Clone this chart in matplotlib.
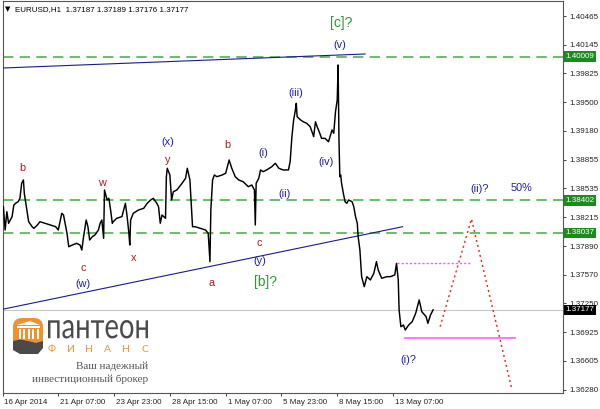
import numpy as np
import matplotlib.pyplot as plt
from matplotlib.patches import FancyBboxPatch, Polygon, Rectangle, PathPatch
from matplotlib.textpath import TextPath
from matplotlib.font_manager import FontProperties
from matplotlib.transforms import Affine2D, ScaledTranslation

# EURUSD H1 price path (hour index from 16 Apr 2014, price)
hours = [1, 3, 5, 7, 11, 13, 15, 18, 20, 22, 24, 25, 28, 30, 34, 36, 40, 43, 49, 55,
         61, 64, 68, 70, 74, 76, 80, 85, 89, 91, 93, 96, 98, 100, 103, 106, 110, 112, 114, 116,
         117, 120, 122, 124, 126, 127, 131, 137, 141, 143, 145, 146, 147, 150, 156, 162, 166, 170, 173, 177,
         179, 181, 183, 187, 188, 189, 192, 194, 196, 200, 206, 210, 212, 215, 217, 218, 221, 227, 233, 236,
         238, 239, 241, 243, 246, 252, 256, 258, 260, 263, 267, 271, 276, 282, 286, 289, 290, 291, 294, 296,
         299, 303, 309, 313, 317, 322, 328, 330, 332, 334, 336, 337, 338, 342, 345, 349, 353, 357, 359, 361,
         364, 366, 370, 374, 378, 380, 382, 384, 385, 386, 387, 388, 389, 391, 393, 395, 397, 401, 403, 405,
         407, 408, 410, 411, 412, 415, 418, 422, 426, 429, 431, 435, 441, 445, 450, 452, 454, 455, 457, 460,
         462, 466, 470, 474, 478, 481, 486, 488, 491, 494]
prices = [1.38331, 1.38070, 1.38275, 1.38145, 1.38220, 1.38350, 1.38369, 1.38387, 1.38425, 1.38593,
          1.38630, 1.38481, 1.38294, 1.38163, 1.38107, 1.38089, 1.38126, 1.38163, 1.38145, 1.38126,
          1.38107, 1.38070, 1.38257, 1.38238, 1.38033, 1.37883, 1.37902, 1.37921, 1.37902, 1.37846,
          1.37995, 1.38182, 1.38107, 1.37958, 1.37995, 1.38014, 1.38070, 1.38145, 1.38182, 1.37977,
          1.38518, 1.38406, 1.38425, 1.38294, 1.38145, 1.38163, 1.38201, 1.38220, 1.38369, 1.38220,
          1.38033, 1.37902, 1.38182, 1.38257, 1.38294, 1.38313, 1.38369, 1.38406, 1.38425, 1.38369,
          1.38331, 1.38145, 1.38238, 1.38201, 1.38667, 1.38761, 1.38686, 1.38406, 1.38499, 1.38518,
          1.38593, 1.38649, 1.38761, 1.38630, 1.38294, 1.38107, 1.38107, 1.38089, 1.38070, 1.38033,
          1.37716, 1.38294, 1.38630, 1.38686, 1.38667, 1.38686, 1.38705, 1.38779, 1.38854, 1.38761,
          1.38667, 1.38630, 1.38611, 1.38555, 1.38574, 1.38518, 1.38126, 1.38593, 1.38649, 1.38742,
          1.38723, 1.38742, 1.38779, 1.38817, 1.38761, 1.38742, 1.38742, 1.38835, 1.39115, 1.39301,
          1.39413, 1.39488, 1.39338, 1.39301, 1.39282, 1.39264, 1.39226, 1.39115, 1.39282, 1.39226,
          1.39152, 1.39096, 1.39096, 1.39058, 1.39189, 1.39152, 1.39394, 1.39525, 1.39917, 1.39077,
          1.38667, 1.38686, 1.38593, 1.38481, 1.38387, 1.38369, 1.38406, 1.38387, 1.38331, 1.38220,
          1.38145, 1.37995, 1.37846, 1.37697, 1.37548, 1.37436, 1.37548, 1.37511, 1.37586, 1.37716,
          1.37623, 1.37530, 1.37548, 1.37548, 1.37567, 1.37697, 1.37511, 1.37175, 1.36988, 1.37007,
          1.36951, 1.37007, 1.37044, 1.37138, 1.37287, 1.37156, 1.37100, 1.37026, 1.37119, 1.37177]

# horizontal levels
green_levels = [1.40009, 1.38402, 1.38037]
bid_price = 1.37177

# axis ticks
price_ticks = [1.40465, 1.40145, 1.39825, 1.39500, 1.39180, 1.38855, 1.38535,
               1.38215, 1.37890, 1.37570, 1.37250, 1.36925, 1.36605, 1.36280]
time_ticks = [0, 64, 128, 192, 256, 320, 384, 448]
time_labels = ['16 Apr 2014', '21 Apr 07:00', '23 Apr 23:00', '28 Apr 15:00',
               '1 May 07:00', '5 May 23:00', '8 May 15:00', '13 May 07:00']

# trend lines and projection
upper_trend_h = [0, 416]
upper_trend_p = [1.39883, 1.40040]
lower_trend_h = [0, 459]
lower_trend_p = [1.37183, 1.38107]
proj_h = [502, 538, 584]
proj_p = [1.36988, 1.38193, 1.36302]
pink_dot_h = [452, 538]
pink_dot_p = [1.37706, 1.37706]
pink_solid_h = [462, 588]
pink_solid_p = [1.36865, 1.36865]

# wave labels: (text, hour, price, colour kind)
wave_labels = [
    ('b', 23, 1.38764, 'red'), ('c', 93, 1.37645, 'red'), ('w', 114, 1.38596, 'red'),
    ('x', 150, 1.37757, 'red'), ('(w)', 92, 1.37466, 'blue'), ('y', 189, 1.38854, 'red'),
    ('(x)', 190, 1.39058, 'blue'), ('b', 258, 1.39019, 'red'), ('(i)', 299, 1.38929, 'blue'),
    ('(ii)', 324, 1.38470, 'blue'), ('c', 295, 1.37921, 'red'), ('(y)', 295, 1.37727, 'blue'),
    ('a', 240, 1.37477, 'red'), ('(iii)', 336, 1.39603, 'blue'), ('(iv)', 371, 1.38835, 'blue'),
    ('(v)', 387, 1.40140, 'blue'), ('(ii)?', 547, 1.38529, 'blue'), ('50%', 595, 1.38537, 'blue'),
    ('(i)?', 466, 1.36616, 'blue'),
]
big_labels = [('[c]?', 389, 1.40390), ('[b]?', 302, 1.37488)]

RED = '#a81c1c'
BLUE = '#1c1ca8'
GREEN_TXT = '#2f9a2f'
NAVY = '#1a1a90'
TICK_FONT = 'Liberation Sans'

W, H = 600, 409
fig = plt.figure(figsize=(W / 100, H / 100), dpi=100)
fig.patch.set_facecolor('white')
ax = fig.add_axes([2.5 / W, 1 - 393 / H, (563 - 2.5) / W, (393 - 1) / H])

ax.plot(hours, prices, color='black', lw=1.05, zorder=4)

for lvl in green_levels:
    ax.axhline(lvl, color='#6cbf6c', lw=1.5, dashes=(5, 3), zorder=2)
ax.axhline(bid_price, color='#c8c8c8', lw=0.8, zorder=1)

ax.plot(upper_trend_h, upper_trend_p, color=NAVY, lw=0.8, zorder=3)
ax.plot(lower_trend_h, lower_trend_p, color=NAVY, lw=0.8, zorder=3)
ax.plot(pink_dot_h, pink_dot_p, color='#ff55ff', lw=1.0, dashes=(1.5, 1.5), zorder=3)
ax.plot(pink_solid_h, pink_solid_p, color='#ff77ff', lw=1.4, zorder=3)
ax.plot(proj_h, proj_p, color='#ff2020', lw=1.0, dashes=(1.5, 2.2), zorder=3)

for txt, hx, py, kind in wave_labels:
    ax.text(hx, py, txt, color=RED if kind == 'red' else BLUE, fontsize=7.8,
            family=TICK_FONT, ha='center', va='center', zorder=5)
for txt, hx, py in big_labels:
    ax.text(hx, py, txt, color=GREEN_TXT, fontsize=10, family=TICK_FONT,
            ha='center', va='center', zorder=5)

ax.set_xlim(0.3, 643)
ax.set_ylim(1.36246, 1.40633)

ax.yaxis.tick_right()
ax.set_yticks(price_ticks)
ax.set_yticklabels([f'{v:.5f}' for v in price_ticks], family=TICK_FONT, fontsize=5.8)
ax.set_xticks(time_ticks)
ax.set_xticklabels(time_labels, family=TICK_FONT, fontsize=5.8)
ax.tick_params(axis='both', direction='out', length=2.5, width=0.6, pad=2, colors='#222222')
shift = ScaledTranslation(2 / 100, 0, fig.dpi_scale_trans)
for lab in ax.get_xticklabels():
    lab.set_horizontalalignment('left')
    lab.set_transform(lab.get_transform() + shift)
for sp in ax.spines.values():
    sp.set_color('#555555')
    sp.set_linewidth(0.8)

# price tags on the right scale
ytr = ax.get_yaxis_transform()
for lvl in green_levels:
    ax.text(1.0045, lvl, f'{lvl:.5f}', transform=ytr, color='white', fontsize=5.8,
            family=TICK_FONT, ha='left', va='center', clip_on=False, zorder=6,
            bbox=dict(facecolor='#1e8a1e', edgecolor='none', pad=1.3))
ax.text(1.0045, bid_price, f'{bid_price:.5f}', transform=ytr, color='white', fontsize=5.8,
        family=TICK_FONT, ha='left', va='center', clip_on=False, zorder=6,
        bbox=dict(facecolor='black', edgecolor='none', pad=1.3))

# header
fig.text(5 / W, 1 - 9.5 / H, '\u25bc', fontsize=5, color='black', va='center', family='DejaVu Sans')
fig.text(15 / W, 1 - 9.5 / H, 'EURUSD,H1  1.37187 1.37189 1.37176 1.37177', fontsize=5.8,
         family=TICK_FONT, color='black', va='center')

# logo, drawn in pixel space
lax = fig.add_axes([0, 0, 1, 1], zorder=10)
lax.set_xlim(0, W)
lax.set_ylim(H, 0)
lax.axis('off')
lax.patch.set_alpha(0)

ORANGE = '#f0922b'
DARK = '#4a4a4a'
lax.add_patch(FancyBboxPatch((13, 318), 30, 30, boxstyle='round,pad=0,rounding_size=9',
                             facecolor=ORANGE, edgecolor='none'))
lax.add_patch(Polygon([(17, 325), (30, 321), (40, 325)], closed=True, facecolor='white', edgecolor='none'))
lax.add_patch(Rectangle((17, 326), 23, 2, facecolor='white', edgecolor='none'))
for cx in [18.5, 23, 27.5, 32, 36.5]:
    lax.add_patch(Rectangle((cx, 329), 2.2, 10, facecolor='white', edgecolor='none'))
lax.add_patch(Polygon([(13, 341), (20, 339.5), (28, 341), (36, 343), (43, 341), (43, 348),
                       (38, 354), (20, 354), (13, 350)], closed=True,
                      facecolor=DARK, edgecolor='none'))

fp = FontProperties(family='Lato', weight='normal')
tp = TextPath((0, 0), 'пантеон', size=20, prop=fp)
ext = tp.get_extents()
sx = 100 / ext.width
sy = 18.5 / ext.height
tr = Affine2D().translate(-ext.x0, -ext.y0).scale(sx, -sy).translate(48, 338.5)
lax.add_patch(PathPatch(tr.transform_path(tp), facecolor=DARK, edgecolor='none'))

for k, ch in enumerate('ФИНАНС'):
    lax.text(52 + k * 18.6, 349, ch, color=ORANGE, fontsize=7.5, family='Lato',
             ha='center', va='center')
lax.text(148, 366, 'Ваш надежный', color='#555555', fontsize=8, family='Liberation Serif',
         ha='right', va='center')
lax.text(148, 379.5, 'инвестиционный брокер', color='#555555', fontsize=8,
         family='Liberation Serif', ha='right', va='center')

fig.savefig('out.png', dpi=100)
